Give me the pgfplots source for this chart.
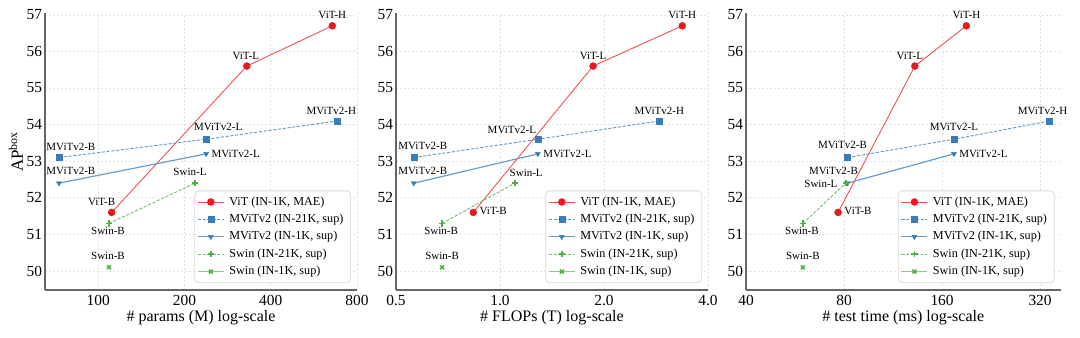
\documentclass[border=0pt]{standalone}
\usepackage{pgfplots}
\pgfplotsset{compat=1.18}
\usepackage{fontspec}
\setmainfont{Liberation Serif}
\definecolor{cred}{HTML}{E41A1C}
\definecolor{cblue}{HTML}{377EB8}
\definecolor{cgreen}{HTML}{4DAF4A}
\newcommand{\mylblfont}{\fontsize{5.5}{6}\selectfont}
\newcommand{\mytickfont}{\fontsize{7.7}{8}\selectfont}
\newcommand{\myxlfont}{\fontsize{8}{9}\selectfont}
\newcommand{\mylegfont}{\fontsize{6.1}{6.5}\selectfont}
\newcommand{\mylab}[5]{\node[font=\mylblfont,anchor=center,inner sep=0pt,xshift=#3*0.5pt,yshift=#4*-0.5pt] at (axis cs:#1,#2) {#5};}
\newcommand{\mylabw}[5]{\node[font=\mylblfont,anchor=west,inner sep=0pt,xshift=#3*0.5pt,yshift=#4*-0.5pt] at (axis cs:#1,#2) {#5};}
\newcommand{\mylabe}[5]{\node[font=\mylblfont,anchor=east,inner sep=0pt,xshift=#3*0.5pt,yshift=#4*-0.5pt] at (axis cs:#1,#2) {#5};}

\pgfplotsset{
  scale only axis, clip=false,
  axis lines*=left,
  axis line style={-, draw=black!60, line width=0.75pt},
  grid=major,
  major grid style={draw=gray!22, line width=0.3pt, dash pattern=on 1.2pt off 0.8pt},
  major tick length=0pt,
  tick label style={font=\mytickfont},
  xticklabel style={anchor=center, yshift=-5.4pt},
  yticklabel style={anchor=east, inner sep=0pt, xshift=-1.3pt},
  xlabel style={font=\myxlfont, at={(axis description cs:0.5,0)}, anchor=center, yshift=-13.8pt},
  legend style={at={(0.981,0.025)}, anchor=south east, draw=gray!30, rounded corners=2pt,
    fill=white, font=\mylegfont, inner sep=1.2pt,
    nodes={inner ysep=1.6pt, inner xsep=2.4pt, text height=4.3pt, text depth=1.2pt}},
  legend cell align=left,
  legend image code/.code={\draw[mark repeat=2,mark phase=2,#1] plot coordinates {(0pt,0pt) (6.5pt,0pt) (13pt,0pt)};},
  vitline/.style={draw=cred!75, line width=0.45pt, mark=*, mark size=1.75pt, mark options={solid, draw=cred, fill=cred, line width=0.2pt}},
  mvitA/.style={draw=cblue!80, line width=0.45pt, dash pattern=on 1.6pt off 0.8pt, mark=square*, mark size=1.55pt, mark options={solid, draw=cblue, fill=cblue, line width=0.2pt}},
  mvitB/.style={draw=cblue!75, line width=0.6pt, mark=triangle*, mark size=1.45pt, mark options={solid, rotate=180, draw=cblue, fill=cblue, line width=0.2pt}},
  swinA/.style={draw=cgreen!80, line width=0.45pt, dash pattern=on 1.6pt off 0.8pt, mark=+, mark size=1.6pt, mark options={solid, draw=cgreen, line width=0.8pt}},
  swinB/.style={draw=cgreen!65, line width=0.7pt, mark=x, mark size=1.35pt, mark options={solid, draw=cgreen, line width=0.8pt}},
}
\pgfplotsset{/pgf/number format/assume math mode=true}

\begin{document}
\begin{tikzpicture}
\useasboundingbox (0,0) rectangle (540pt,168.5pt);

% Panel 1: params
\begin{axis}[at={(22.5pt,23.5pt)}, anchor=south west, width=156pt, height=138.5pt,
  xmode=log, ymin=49.48, ymax=57.05, ytick={50,51,52,53,54,55,56,57},
  xmin=65.2, xmax=800, xtick={100,200,400,800}, xticklabels={100,200,400,800},
  xlabel={\# params (M) log-scale},
  ylabel={AP\textsuperscript{box}},
  ylabel style={font=\fontsize{8.5}{9}\selectfont, at={(axis description cs:0,0.5)}, anchor=center, rotate=0, yshift=14.6pt}]
\addplot[vitline] coordinates {(111.4,51.6) (330,55.6) (656,56.7)};
\addlegendentry{ViT (IN-1K, MAE)}
\addplot[mvitA] coordinates {(72.9,53.1) (238,53.6) (683,54.1)};
\addlegendentry{MViTv2 (IN-21K, sup)}
\addplot[mvitB] coordinates {(72.9,52.4) (238,53.2)};
\addlegendentry{MViTv2 (IN-1K, sup)}
\addplot[swinA] coordinates {(109,51.3) (217.6,52.4)};
\addlegendentry{Swin (IN-21K, sup)}
\addplot[swinB] coordinates {(109,50.1)};
\addlegendentry{Swin (IN-1K, sup)}
\mylab{656}{56.7}{0}{-11}{ViT-H}
\mylab{330}{55.6}{-1}{-10}{ViT-L}
\mylab{111.4}{51.6}{-10}{-10}{ViT-B}
\mylab{72.9}{53.1}{12}{-11}{MViTv2-B}
\mylab{238}{53.6}{12}{-12}{MViTv2-L}
\mylab{683}{54.1}{-6}{-10}{MViTv2-H}
\mylab{72.9}{52.4}{12}{-12}{MViTv2-B}
\mylabw{238}{53.2}{5}{0}{MViTv2-L}
\mylab{109}{51.3}{-1}{8}{Swin-B}
\mylab{217.6}{52.4}{-5}{-11}{Swin-L}
\mylab{109}{50.1}{-1}{-11}{Swin-B}
\end{axis}

% Panel 2: FLOPs
\begin{axis}[at={(198pt,23.5pt)}, anchor=south west, width=156pt, height=138.5pt,
  xmode=log, ymin=49.48, ymax=57.05, ytick={50,51,52,53,54,55,56,57},
  xmin=0.5, xmax=4.0, xtick={0.5,1,2,4}, xticklabels={0.5,1.0,2.0,4.0},
  xlabel={\# FLOPs (T) log-scale}]
\addplot[vitline] coordinates {(0.837,51.6) (1.86,55.6) (3.37,56.7)};
\addlegendentry{ViT (IN-1K, MAE)}
\addplot[mvitA] coordinates {(0.563,53.1) (1.287,53.6) (2.89,54.1)};
\addlegendentry{MViTv2 (IN-21K, sup)}
\addplot[mvitB] coordinates {(0.563,52.4) (1.287,53.2)};
\addlegendentry{MViTv2 (IN-1K, sup)}
\addplot[swinA] coordinates {(0.68,51.3) (1.103,52.4)};
\addlegendentry{Swin (IN-21K, sup)}
\addplot[swinB] coordinates {(0.68,50.1)};
\addlegendentry{Swin (IN-1K, sup)}
\mylab{3.37}{56.7}{0}{-11}{ViT-H}
\mylab{1.86}{55.6}{0}{-10}{ViT-L}
\mylabw{0.837}{51.6}{6}{-1}{ViT-B}
\mylab{0.563}{53.1}{9}{-12}{MViTv2-B}
\mylab{1.287}{53.6}{-26}{-9}{MViTv2-L}
\mylab{2.89}{54.1}{0}{-10}{MViTv2-H}
\mylab{0.563}{52.4}{9}{-12}{MViTv2-B}
\mylabw{1.287}{53.2}{5}{0}{MViTv2-L}
\mylab{1.103}{52.4}{11.5}{-10}{Swin-L}
\mylab{0.68}{51.3}{-1}{8}{Swin-B}
\mylab{0.68}{50.1}{0}{-11}{Swin-B}
\end{axis}

% Panel 3: test time
\begin{axis}[at={(373pt,23.5pt)}, anchor=south west, width=157.3pt, height=138.5pt,
  xmode=log, ymin=49.48, ymax=57.05, ytick={50,51,52,53,54,55,56,57},
  xmin=40, xmax=370, xtick={40,80,160,320}, xticklabels={40,80,160,320},
  xlabel={\# test time (ms) log-scale}]
\addplot[vitline] coordinates {(76.7,51.6) (132,55.6) (190,56.7)};
\addlegendentry{ViT (IN-1K, MAE)}
\addplot[mvitA] coordinates {(82,53.1) (174,53.6) (342,54.1)};
\addlegendentry{MViTv2 (IN-21K, sup)}
\addplot[mvitB] coordinates {(82,52.4) (174,53.2)};
\addlegendentry{MViTv2 (IN-1K, sup)}
\addplot[swinA] coordinates {(59.8,51.3) (81,52.4)};
\addlegendentry{Swin (IN-21K, sup)}
\addplot[swinB] coordinates {(59.8,50.1)};
\addlegendentry{Swin (IN-1K, sup)}
\mylab{190}{56.7}{0}{-11}{ViT-H}
\mylab{132}{55.6}{-5}{-10}{ViT-L}
\mylabw{76.7}{51.6}{6}{-1}{ViT-B}
\mylab{82}{53.1}{-5}{-13}{MViTv2-B}
\mylab{174}{53.6}{0}{-12}{MViTv2-L}
\mylab{342}{54.1}{-7}{-10}{MViTv2-H}
\mylab{82}{52.4}{-14}{-12}{MViTv2-B}
\mylabe{81}{52.4}{-8}{1}{Swin-L}
\mylabw{174}{53.2}{5}{0}{MViTv2-L}
\mylab{59.8}{51.3}{-1}{8}{Swin-B}
\mylab{59.8}{50.1}{0}{-11}{Swin-B}
\end{axis}
\end{tikzpicture}
\end{document}
